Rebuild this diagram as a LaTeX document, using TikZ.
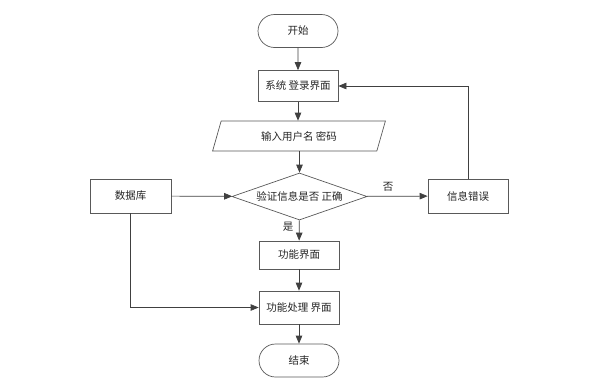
\documentclass[tikz,border=0pt]{standalone}
\usepackage{fontspec}
\setmainfont{Noto Sans CJK SC}
\usetikzlibrary{shapes.geometric,shapes.misc,arrows.meta}
\begin{document}
\begin{tikzpicture}[x=1pt,y=-1pt,
  every node/.style={font=\fontsize{10.5pt}{12pt}\selectfont, text=black!85},
  box/.style={draw=black!65, line width=0.7pt, minimum width=80pt, minimum height=31pt, inner sep=0pt, fill=white},
  term/.style={box, rounded rectangle, minimum height=33pt},
  io/.style={draw=black!65, line width=0.7pt, trapezium, trapezium left angle=67, trapezium right angle=113, minimum width=174pt, minimum height=30pt, inner sep=0pt, trapezium stretches=true},
  dec/.style={draw=black!65, line width=0.7pt, diamond, minimum width=135pt, minimum height=47pt, inner sep=0pt, aspect=2.87},
  arr/.style={draw=black!75, line width=0.7pt, -{Triangle[length=8pt,width=6.5pt]}},
  lbl/.style={font=\fontsize{10.5pt}{12pt}\selectfont}]
\useasboundingbox (0,0) rectangle (602,386);
\node[term] (start) at (298,31) {开始};
\node[box] (login) at (298,86) {系统 登录界面};
\node[io] (input) at (299,136) {输入用户名 密码};
\node[dec] (check) at (299.5,196.5) {验证信息是否 正确};
\node[box, minimum width=81pt, minimum height=34pt] (db) at (130.5,196) {数据库};
\node[box, minimum width=80pt, minimum height=34pt] (err) at (468,196) {信息错误};
\node[box, minimum height=28pt] (func) at (299,255) {功能界面};
\node[box, minimum height=33pt] (proc) at (299,307.5) {功能处理 界面};
\node[term] (end) at (299,360.5) {结束};
\node[lbl] (no) at (388,187) {否};
\node[lbl] (yes) at (288,227) {是};
\draw[arr] (start) -- (login);
\draw[arr] (login) -- (login.south |- input.north);
\draw[arr] (input.south -| check.north) -- (check.north);
\draw[arr] (db) -- (check);
\draw[arr] (check) -- (err);
\draw[arr] (check) -- (func);
\draw[arr] (func) -- (proc);
\draw[arr] (proc) -- (end);
\draw[arr] (err.north) |- (login.east);
\draw[arr] (db.south) |- (proc.west);
\end{tikzpicture}
\end{document}
